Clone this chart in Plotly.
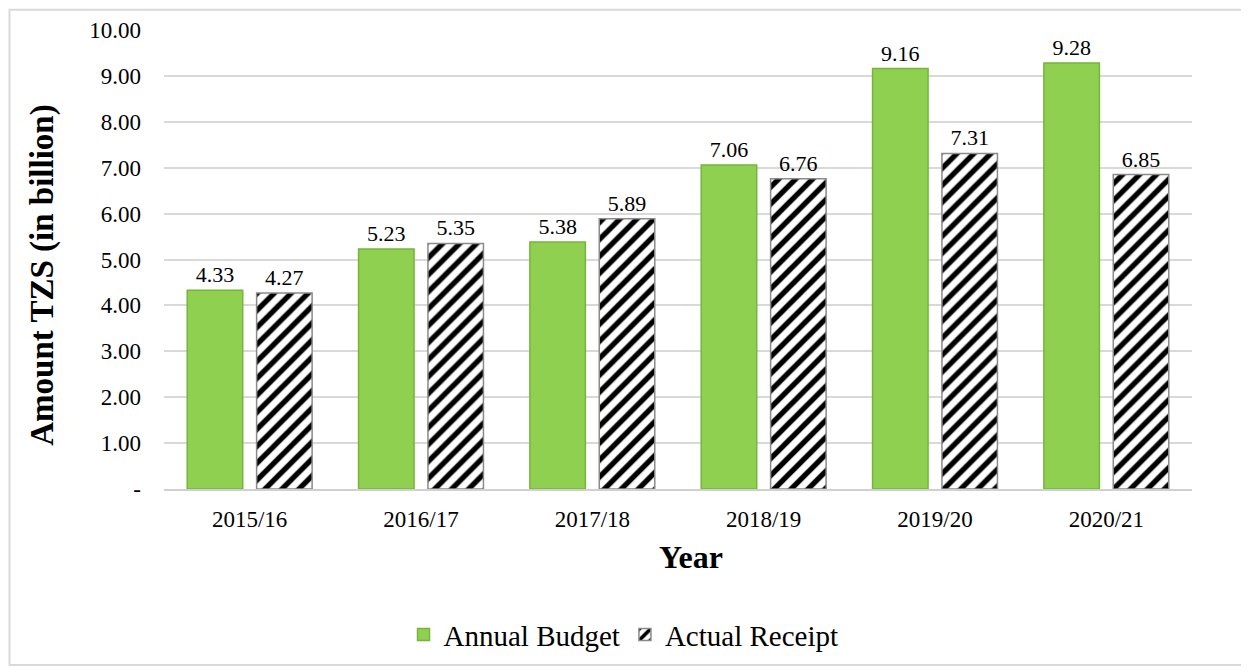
import plotly.graph_objects as go

years = ["2015/16", "2016/17", "2017/18", "2018/19", "2019/20", "2020/21"]
annual_budget = [4.33, 5.23, 5.38, 7.06, 9.16, 9.28]
actual_receipt = [4.27, 5.35, 5.89, 6.76, 7.31, 6.85]
y_ticks = [0, 1, 2, 3, 4, 5, 6, 7, 8, 9, 10]
y_tick_labels = ["-"] + [f"{v:.2f}" for v in y_ticks[1:]]

FONT = "Liberation Serif, Times New Roman, serif"

fig = go.Figure()
fig.add_trace(go.Bar(
    x=years, y=annual_budget, name="Annual Budget",
    marker=dict(color="#90d050", line=dict(color="#76b43a", width=1.5)),
    texttemplate="%{y:.2f}", textposition="outside",
    textfont=dict(family=FONT, size=22, color="#000"),
    cliponaxis=False,
))
fig.add_trace(go.Bar(
    x=years, y=actual_receipt, name="Actual Receipt",
    marker=dict(color="white", line=dict(color="#8a8a8a", width=1.5),
                pattern=dict(shape="/", fgcolor="black", bgcolor="white",
                             fgopacity=1, size=12, solidity=0.45)),
    texttemplate="%{y:.2f}", textposition="outside",
    textfont=dict(family=FONT, size=22, color="#000"),
    cliponaxis=False,
))

# page body has an 8px default margin, so the figure is a bit smaller than the window
W, H = 1241, 664
ml, mr, mt, mb = 156, 57, 22, 179
pw, ph = W - ml - mr, H - mt - mb

fig.update_layout(
    width=W, height=H,
    margin=dict(l=ml, r=mr, t=mt, b=mb),
    paper_bgcolor="white", plot_bgcolor="white",
    font=dict(family=FONT, size=22, color="#000"),
    barmode="group", bargap=0.19, bargroupgap=0.2,
    showlegend=True,
    legend=dict(orientation="h", x=0.447, xanchor="center",
                y=-0.3175, yanchor="middle",
                font=dict(family=FONT, size=29), itemwidth=30),
    shapes=[dict(type="rect", xref="paper", yref="paper",
                 x0=-(ml - 1.5) / pw, x1=1 + (mr - 1.5) / pw,
                 y0=-(mb - 1.5) / ph, y1=1 + (mt - 1.5) / ph,
                 line=dict(color="#d9d9d9", width=2), layer="below")],
    annotations=[
        dict(text="<b>Amount TZS (in billion)</b>", textangle=-90,
             xref="paper", yref="paper", x=-0.119, y=0.466,
             xanchor="center", yanchor="middle", showarrow=False,
             font=dict(family=FONT, size=33)),
        dict(text="<b>Year</b>", xref="paper", yref="paper", x=0.513, y=-0.149,
             xanchor="center", yanchor="middle", showarrow=False,
             font=dict(family=FONT, size=32)),
    ],
)
fig.update_xaxes(
    automargin=False,
    tickfont=dict(family=FONT, size=23), ticklabelstandoff=9, tickangle=0,
    showline=True, linecolor="#d0d0d0", linewidth=1.5, ticks="",
)
fig.update_yaxes(
    automargin=False,
    range=[0, 10], tickvals=y_ticks, ticktext=y_tick_labels,
    tickfont=dict(family=FONT, size=23), ticklabelstandoff=22,
    showgrid=True, gridcolor="#d9d9d9", gridwidth=1.5, zeroline=False,
    ticks="", ticklen=0,
)

fig.write_html("out.html")
